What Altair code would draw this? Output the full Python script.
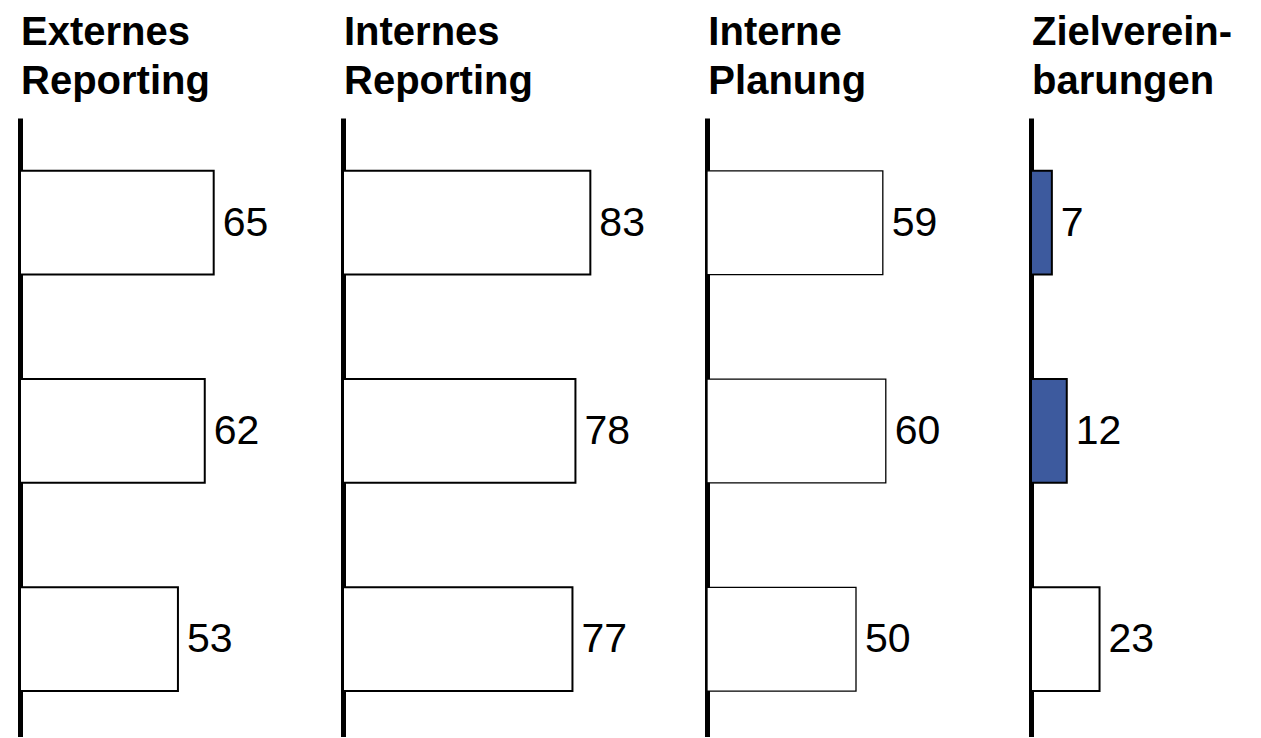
import altair as alt
import pandas as pd

# Survey shares (in %) for each area, three rows per panel
panel_titles = [
    ["Externes", "Reporting"],
    ["Internes", "Reporting"],
    ["Interne", "Planung"],
    ["Zielverein-", "barungen"],
]
rows = ["r1", "r2", "r3"]
externes_reporting = [65, 62, 53]
internes_reporting = [83, 78, 77]
interne_planung = [59, 60, 50]
zielvereinbarungen = [7, 12, 23]
highlighted = [
    [False, False, False],
    [False, False, False],
    [False, False, False],
    [True, True, False],
]

series = [externes_reporting, internes_reporting, interne_planung, zielvereinbarungen]
panel_widths = [323, 364, 324, 225]
bar_outline = [2, 2, 1.3, 2]
panel_height = 619

FONT = "Liberation Sans"
BLUE = "#3d5a9e"


def panel(title, values, flags, width, outline):
    df = pd.DataFrame({"row": rows, "value": values, "hl": flags})
    y = alt.Y(
        "row:N",
        sort=rows,
        scale=alt.Scale(paddingInner=0.502, paddingOuter=0.237, align=0.535),
        axis=alt.Axis(
            labels=False, ticks=False, title=None, grid=False,
            domain=True, domainWidth=5, domainColor="black",
        ),
    )
    x = alt.X("value:Q", scale=alt.Scale(domain=[0, 100], range=[0, 298]), axis=None)
    base = alt.Chart(df).encode(y=y, x=x)
    bars = base.mark_bar(stroke="black", strokeWidth=outline).encode(
        fill=alt.condition("datum.hl", alt.value(BLUE), alt.value("white"))
    )
    labels = base.mark_text(
        align="left", baseline="middle", dx=9, dy=1, font=FONT, fontSize=41, color="black"
    ).encode(text="value:Q")
    return alt.layer(bars, labels).properties(
        width=width,
        height=panel_height,
        title=alt.TitleParams(
            text=title, anchor="start", font=FONT, fontSize=40, fontWeight="bold",
            lineHeight=49, color="black", offset=16, dx=2,
        ),
    )


chart = alt.hconcat(
    *[
        panel(t, v, f, w, o)
        for t, v, f, w, o in zip(panel_titles, series, highlighted, panel_widths, bar_outline)
    ],
    spacing=0,
    bounds="flush",
).properties(
    padding={"left": 19, "top": 13, "right": 0, "bottom": 0}
).configure(
    background="white"
).configure_view(
    strokeWidth=0, stroke="transparent"
)

chart.save("out.html", embed_options={"renderer": "svg", "actions": False})
